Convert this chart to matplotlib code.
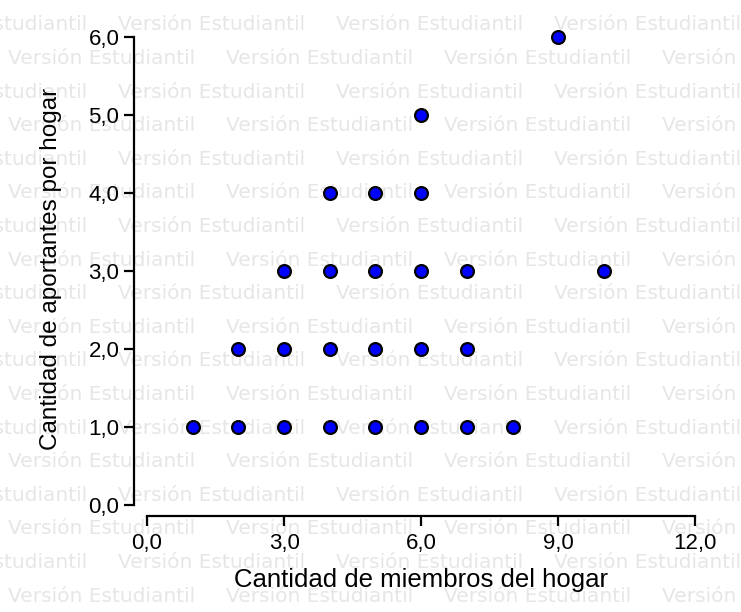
import matplotlib
matplotlib.use("Agg")
import matplotlib.pyplot as plt
from matplotlib.ticker import FuncFormatter

# datos (SPSS)
miembros = [1, 2, 3, 4, 5, 6, 7, 8,
            2, 3, 4, 5, 6, 7,
            3, 4, 5, 6, 7, 10,
            4, 5, 6,
            6,
            9]
aportantes = [1, 1, 1, 1, 1, 1, 1, 1,
              2, 2, 2, 2, 2, 2,
              3, 3, 3, 3, 3, 3,
              4, 4, 4,
              5,
              6]
x_ticks = [0, 3, 6, 9, 12]
y_ticks = [0, 1, 2, 3, 4, 5, 6]
marca = "Versión Estudiantil"

W, H = 741, 612
fig = plt.figure(figsize=(W / 100, H / 100), dpi=100)

# marca de agua en filas alternadas
for k in range(18):
    y = 25 + 33.6 * k
    x0 = 118 if k % 2 == 0 else 8
    for n in range(-1, 4):
        fig.text((x0 + 218 * n) / W, 1 - y / H, marca, fontsize=14.5,
                 family="DejaVu Sans", color="#e6e6e6", va="center", ha="left",
                 zorder=-5)

ax = fig.add_axes([134 / W, 96 / H, 575 / W, 495 / H])
ax.patch.set_alpha(0)
ax.set_zorder(2)

ax.scatter(miembros, aportantes, s=85, c="#0000ff", edgecolors="black",
           linewidths=1.6, zorder=3, clip_on=False)

ax.set_xlim(-0.285, 12.3)
ax.set_ylim(-0.141, 6.2)
ax.set_xticks(x_ticks)
ax.set_yticks(y_ticks)
fmt = FuncFormatter(lambda v, p: f"{v:.1f}".replace(".", ","))
ax.xaxis.set_major_formatter(fmt)
ax.yaxis.set_major_formatter(fmt)

for s in ["top", "right"]:
    ax.spines[s].set_visible(False)
ax.spines["left"].set_bounds(0, 6)
ax.spines["bottom"].set_bounds(0, 12)
for s in ["left", "bottom"]:
    ax.spines[s].set_linewidth(1.6)
ax.tick_params(direction="out", length=7.5, width=1.6, labelsize=16)
ax.tick_params(axis="y", pad=3)
ax.tick_params(axis="x", pad=5)
for lab in ax.get_xticklabels() + ax.get_yticklabels():
    lab.set_family("Liberation Sans")

ax.set_xlabel("Cantidad de miembros del hogar", fontsize=18.5,
              family="Liberation Sans", labelpad=10)
ax.set_ylabel("Cantidad de aportantes por hogar", fontsize=17.5,
              family="Liberation Sans", labelpad=19)

fig.savefig("out.png", dpi=100)
